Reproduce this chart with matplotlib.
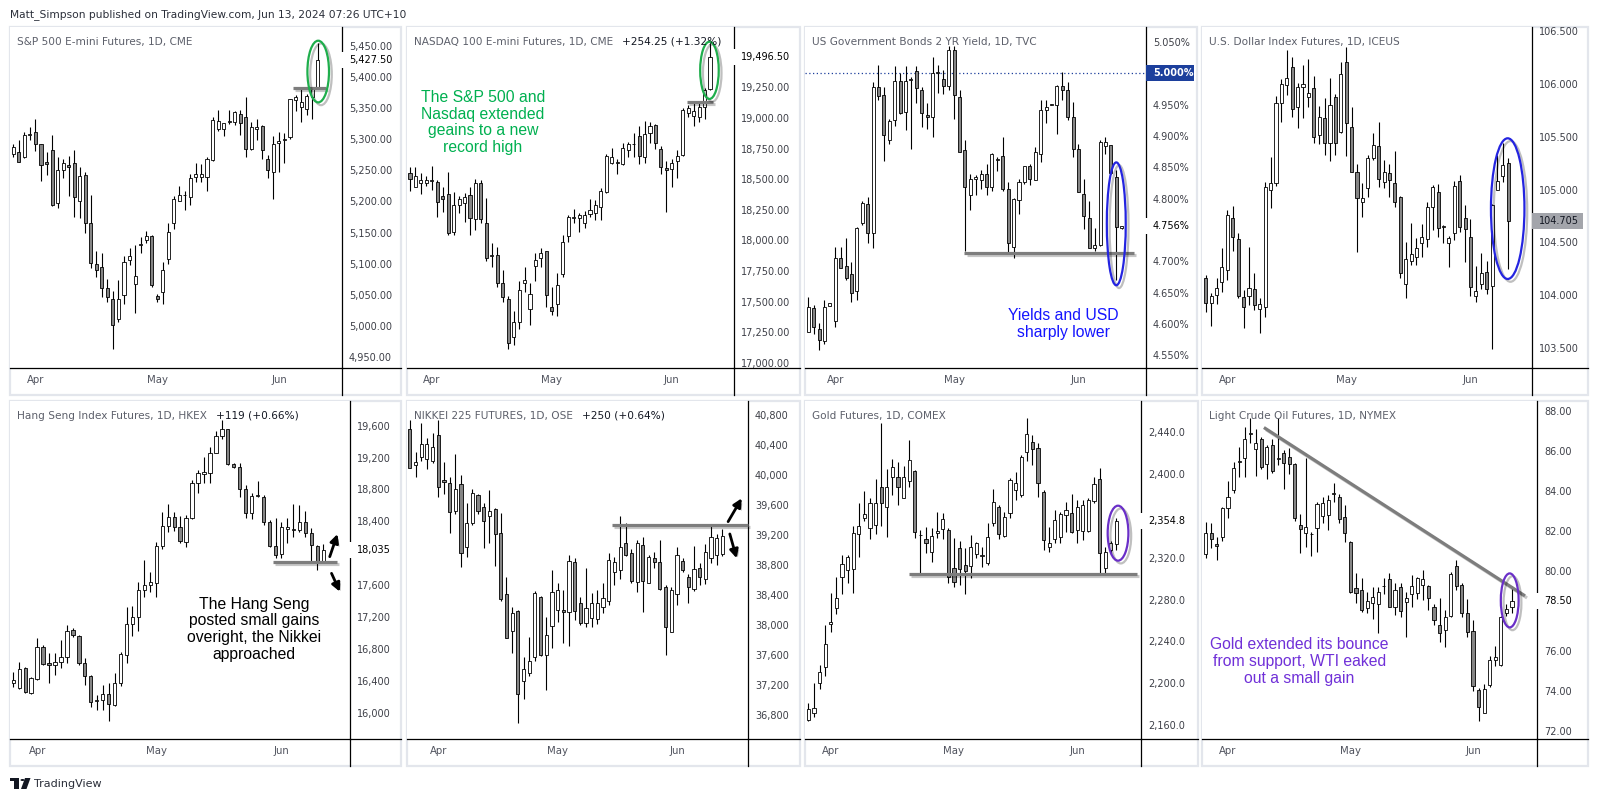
import numpy as np
import matplotlib.pyplot as plt
import matplotlib.patheffects as pe
from matplotlib.patches import Ellipse, Rectangle, Circle, Polygon
from matplotlib.lines import Line2D

# ---- data: daily candles (open, high, low, close) ----
spx = [(5276, 5292, 5272, 5288), (5279, 5299, 5263, 5263), (5271, 5311, 5269, 5307), (5307, 5319, 5299, 5308),
       (5312, 5332, 5281, 5293), (5292, 5293, 5233, 5258), (5264, 5279, 5243, 5260), (5283, 5307, 5192, 5195),
       (5198, 5271, 5190, 5250), (5251, 5268, 5237, 5261), (5259, 5273, 5208, 5256), (5261, 5283, 5175, 5207),
       (5201, 5256, 5173, 5241), (5242, 5248, 5149, 5165), (5165, 5211, 5093, 5102), (5099, 5121, 5079, 5090),
       (5095, 5118, 5046, 5061), (5061, 5075, 5038, 5046), (5044, 5056, 4963, 5001), (5012, 5074, 5007, 5044),
       (5050, 5112, 5036, 5103), (5106, 5126, 5098, 5113), (5067, 5130, 5021, 5080), (5130, 5143, 5118, 5131),
       (5138, 5153, 5134, 5145), (5145, 5146, 5063, 5066), (5048, 5051, 5039, 5044), (5054, 5103, 5035, 5090),
       (5108, 5166, 5099, 5151), (5165, 5208, 5155, 5204), (5201, 5225, 5201, 5211), (5210, 5216, 5187, 5211),
       (5207, 5244, 5194, 5237), (5240, 5261, 5232, 5244), (5239, 5260, 5232, 5244), (5240, 5272, 5216, 5268),
       (5266, 5335, 5265, 5331), (5317, 5347, 5313, 5329), (5316, 5326, 5305, 5326), (5328, 5347, 5324, 5329),
       (5328, 5345, 5323, 5343), (5341, 5347, 5307, 5326), (5336, 5367, 5272, 5284), (5284, 5328, 5283, 5320),
       (5316, 5333, 5299, 5319), (5321, 5322, 5268, 5283), (5268, 5275, 5237, 5250), (5248, 5305, 5204, 5293),
       (5294, 5311, 5247, 5297), (5299, 5310, 5261, 5301), (5303, 5365, 5301, 5364), (5363, 5371, 5345, 5367),
       (5352, 5383, 5328, 5359), (5349, 5373, 5338, 5369), (5368, 5383, 5333, 5380), (5380, 5454, 5380, 5427.5)]

ndx = [(18553, 18602, 18406, 18498), (18439, 18602, 18433, 18526), (18466, 18547, 18376, 18493),
       (18466, 18526, 18444, 18493), (18488, 18610, 18411, 18490), (18479, 18493, 18193, 18316),
       (18362, 18439, 18229, 18335), (18379, 18556, 18044, 18063), (18071, 18398, 18044, 18289),
       (18289, 18362, 18221, 18335), (18302, 18390, 18153, 18357), (18370, 18439, 18044, 18185),
       (18172, 18498, 18085, 18471), (18471, 18493, 18139, 18172), (18144, 18343, 17834, 17853),
       (17872, 17981, 17785, 17875), (17880, 17948, 17616, 17649), (17654, 17758, 17499, 17535),
       (17518, 17545, 17110, 17164), (17213, 17426, 17145, 17336), (17336, 17671, 17273, 17594),
       (17654, 17785, 17581, 17676), (17437, 17649, 17309, 17562), (17790, 17894, 17671, 17839),
       (17853, 17935, 17785, 17894), (17916, 17916, 17458, 17554), (17458, 17622, 17390, 17426),
       (17480, 17731, 17382, 17635), (17725, 18044, 17698, 17989), (18036, 18207, 17989, 18188),
       (18185, 18253, 18139, 18188), (18180, 18221, 18071, 18207), (18144, 18243, 18098, 18207),
       (18215, 18335, 18193, 18248), (18226, 18330, 18166, 18289), (18270, 18425, 18166, 18403),
       (18398, 18705, 18384, 18689), (18635, 18752, 18624, 18678), (18635, 18662, 18542, 18638),
       (18624, 18793, 18616, 18752), (18738, 18806, 18684, 18787), (18784, 18880, 18678, 18787),
       (18852, 18934, 18624, 18689), (18684, 18978, 18629, 18866), (18874, 18970, 18793, 18934),
       (18942, 18950, 18743, 18798), (18746, 18773, 18542, 18602), (18591, 18651, 18234, 18575),
       (18580, 18662, 18433, 18635), (18651, 18738, 18507, 18689), (18697, 19078, 18689, 19065),
       (19043, 19106, 19010, 19078), (19016, 19119, 18934, 19059), (19010, 19119, 18970, 19092),
       (19092, 19242, 18989, 19228), (19234, 19609, 19228, 19496.5)]

us02y = [(4.587, 4.644, 4.587, 4.628), (4.625, 4.630, 4.585, 4.596), (4.593, 4.601, 4.559, 4.574),
         (4.573, 4.638, 4.569, 4.628), (4.629, 4.633, 4.629, 4.633), (4.605, 4.723, 4.596, 4.706),
         (4.706, 4.723, 4.689, 4.690), (4.693, 4.737, 4.670, 4.674), (4.680, 4.699, 4.636, 4.650),
         (4.653, 4.755, 4.639, 4.753), (4.761, 4.797, 4.758, 4.793), (4.792, 4.803, 4.730, 4.745),
         (4.745, 4.987, 4.722, 4.978), (4.978, 5.013, 4.958, 4.964), (4.965, 4.978, 4.861, 4.902),
         (4.893, 4.928, 4.888, 4.924), (4.925, 5.011, 4.916, 4.988), (4.988, 5.001, 4.936, 4.937),
         (4.939, 5.011, 4.910, 4.988), (4.989, 4.995, 4.880, 4.991), (5.004, 5.011, 4.953, 4.976),
         (4.973, 4.979, 4.915, 4.937), (4.933, 4.952, 4.912, 4.930), (4.930, 5.026, 4.898, 5.000),
         (5.000, 5.013, 4.969, 5.002), (4.991, 5.006, 4.967, 4.980), (4.980, 5.043, 4.973, 5.037),
         (5.037, 5.043, 4.927, 4.965), (4.962, 4.974, 4.875, 4.875), (4.878, 4.894, 4.717, 4.819),
         (4.806, 4.840, 4.782, 4.832), (4.832, 4.838, 4.806, 4.834), (4.830, 4.846, 4.816, 4.840),
         (4.840, 4.856, 4.806, 4.819), (4.818, 4.873, 4.813, 4.871), (4.862, 4.866, 4.845, 4.864),
         (4.868, 4.899, 4.813, 4.816), (4.816, 4.826, 4.712, 4.729), (4.723, 4.802, 4.706, 4.799),
         (4.798, 4.832, 4.775, 4.827), (4.826, 4.852, 4.824, 4.852), (4.852, 4.856, 4.822, 4.832),
         (4.830, 4.883, 4.830, 4.875), (4.871, 4.958, 4.859, 4.941), (4.942, 4.958, 4.921, 4.946),
         (4.950, 4.951, 4.949, 4.950), (4.950, 4.981, 4.904, 4.980), (4.980, 5.003, 4.957, 4.974),
         (4.974, 4.987, 4.926, 4.930), (4.930, 4.955, 4.867, 4.879), (4.879, 4.887, 4.811, 4.811),
         (4.808, 4.831, 4.751, 4.772), (4.770, 4.796, 4.722, 4.722), (4.721, 4.753, 4.717, 4.726),
         (4.726, 4.893, 4.724, 4.891), (4.884, 4.899, 4.872, 4.891), (4.886, 4.886, 4.840, 4.841),
         (4.835, 4.846, 4.670, 4.755), (4.753, 4.757, 4.752, 4.756)]

dxy = [(104.160, 104.192, 103.844, 103.929), (103.923, 104.024, 103.708, 103.993), (103.999, 104.160, 103.917, 104.065),
       (104.128, 104.444, 104.034, 104.270), (104.239, 104.807, 104.144, 104.760), (104.728, 104.845, 104.422, 104.555),
       (104.529, 104.586, 103.970, 103.993), (103.980, 104.049, 103.686, 103.885), (103.993, 104.454, 103.907, 104.065),
       (104.056, 104.207, 103.860, 103.907), (103.866, 103.970, 103.645, 103.917), (103.885, 105.076, 103.797, 105.028),
       (104.997, 105.306, 104.823, 105.060), (105.066, 105.887, 105.035, 105.824), (105.824, 106.045, 105.644, 105.998),
       (105.992, 106.323, 105.897, 106.061), (106.159, 106.254, 105.692, 105.761), (105.786, 106.007, 105.581, 105.976),
       (105.976, 106.181, 105.676, 105.998), (105.881, 106.235, 105.786, 105.913), (105.960, 106.077, 105.445, 105.502),
       (105.518, 105.793, 105.433, 105.691), (105.676, 105.865, 105.328, 105.445), (105.445, 106.055, 105.275, 105.802),
       (105.875, 105.906, 105.328, 105.445), (105.549, 106.213, 105.540, 106.096), (106.213, 106.355, 105.319, 105.628),
       (105.591, 105.780, 105.171, 105.171), (105.171, 105.243, 104.413, 104.918), (104.886, 105.066, 104.744, 104.918),
       (105.013, 105.328, 104.927, 105.297), (105.297, 105.534, 105.281, 105.423), (105.414, 105.638, 105.028, 105.098),
       (105.076, 105.281, 105.013, 105.171), (105.161, 105.243, 104.927, 105.092), (105.066, 105.370, 104.839, 104.886),
       (104.934, 104.940, 104.160, 104.207), (104.106, 104.507, 103.970, 104.340), (104.327, 104.687, 104.286, 104.390),
       (104.365, 104.539, 104.286, 104.444), (104.491, 104.675, 104.365, 104.555), (104.529, 104.886, 104.454, 104.833),
       (104.839, 105.044, 104.618, 105.028), (104.981, 105.054, 104.555, 104.634), (104.649, 104.665, 104.492, 104.652),
       (104.492, 104.561, 104.264, 104.539), (104.586, 105.085, 104.523, 105.035), (105.085, 105.139, 104.602, 104.649),
       (104.728, 104.855, 104.318, 104.624), (104.555, 104.719, 103.993, 104.075), (103.993, 104.277, 103.939, 104.043),
       (104.106, 104.403, 104.056, 104.213), (104.223, 104.327, 104.012, 104.056), (104.087, 104.864, 103.487, 104.855),
       (104.997, 105.328, 104.997, 105.085), (105.129, 105.445, 105.076, 105.234), (105.249, 105.297, 104.245, 104.705)]

hsi = [(16369, 16512, 16327, 16411), (16306, 16641, 16294, 16544), (16557, 16578, 16243, 16264),
       (16252, 16453, 16235, 16432), (16419, 16933, 16411, 16820), (16820, 16850, 16599, 16611),
       (16620, 16745, 16369, 16595), (16599, 16745, 16473, 16641), (16641, 16912, 16557, 16703),
       (16703, 17100, 16620, 17029), (17038, 17059, 16954, 16975), (16967, 16975, 16599, 16620),
       (16620, 16683, 16348, 16461), (16461, 16473, 16076, 16139), (16151, 16223, 16034, 16154),
       (16156, 16348, 16034, 16235), (16235, 16369, 15901, 16110), (16097, 16503, 16085, 16377),
       (16377, 16766, 16335, 16737), (16724, 17330, 16620, 17113), (17113, 17339, 16962, 17197),
       (17197, 17644, 17029, 17539), (17539, 17915, 17456, 17602), (17602, 17769, 17518, 17640),
       (17631, 18145, 17447, 18091), (18091, 18522, 18049, 18342), (18342, 18618, 18271, 18450),
       (18450, 18522, 18283, 18333), (18333, 18467, 18133, 18158), (18145, 18480, 18083, 18438),
       (18438, 18919, 18425, 18877), (18877, 19044, 18752, 19011), (18994, 19211, 18885, 19023),
       (19002, 19337, 18877, 19261), (19261, 19537, 19253, 19470), (19470, 19671, 19429, 19554),
       (19554, 19554, 19107, 19119), (19119, 19136, 19065, 19086), (19086, 19128, 18701, 18802),
       (18802, 18856, 18438, 18501), (18501, 18751, 18425, 18718), (18718, 18910, 18701, 18722),
       (18710, 18731, 18354, 18396), (18396, 18417, 18083, 18091), (18091, 18438, 17936, 17978),
       (17991, 18396, 17936, 18325), (18308, 18438, 18125, 18329), (18292, 18618, 18208, 18296),
       (18292, 18605, 18271, 18396), (18396, 18534, 18208, 18250), (18250, 18313, 17907, 18104),
       (18091, 18104, 17790, 17894), (17894, 18116, 17874, 18035)]

nikkei = [(40609, 40733, 40090, 40090), (40134, 40312, 39970, 40178), (40245, 40689, 40192, 40414),
          (40210, 40489, 40076, 40414), (40192, 40556, 40165, 40369), (40534, 40733, 39703, 39845),
          (39934, 40178, 39748, 39903), (39890, 39970, 39233, 39512), (39526, 40281, 39481, 39810),
          (39876, 40001, 38780, 38966), (39037, 39632, 38904, 39366), (39366, 39810, 39335, 39766),
          (39734, 39748, 39481, 39526), (39579, 39623, 39024, 39392), (39455, 39801, 39099, 39526),
          (39543, 39557, 38789, 39215), (39224, 39490, 38327, 38345), (38416, 38638, 37825, 37825),
          (37927, 38238, 37625, 38158), (38194, 38203, 36702, 37084), (37257, 37581, 37013, 37412),
          (37368, 37839, 37324, 37528), (37572, 38460, 37528, 38425), (38380, 38389, 37590, 37603),
          (37603, 38114, 37137, 37870), (37989, 38735, 37692, 38447), (38203, 38567, 38038, 38469),
          (38203, 38469, 37767, 38176), (38180, 38935, 37723, 38860), (38846, 38891, 38069, 38194),
          (38292, 38380, 38003, 38025), (38034, 38758, 37972, 38225), (38092, 38425, 37972, 38301),
          (38079, 38469, 38016, 38292), (38247, 38558, 38167, 38358), (38327, 38958, 38269, 38869),
          (38713, 38913, 38536, 38846), (38735, 39455, 38611, 39046), (39090, 39357, 38922, 38935),
          (38966, 39011, 38567, 38589), (38580, 39135, 38447, 39090), (39068, 39179, 38180, 38593),
          (38567, 38935, 38567, 38913), (38891, 38980, 38758, 38846), (38846, 39135, 38469, 38478),
          (38513, 38536, 37603, 37981), (37914, 38513, 37914, 38469), (38416, 39046, 38269, 38931),
          (38860, 38891, 38713, 38736), (38638, 38682, 38292, 38513), (38483, 39055, 38460, 38744),
          (38767, 38833, 38536, 38638), (38611, 39082, 38549, 38980), (38891, 39335, 38824, 39170),
          (38935, 39215, 38802, 39157), (38949, 39277, 38927, 39188)]

gold = [(2164.7, 2181.3, 2164.1, 2174.9), (2171.7, 2199.8, 2167.9, 2175.8), (2199.8, 2217.3, 2194.0, 2211.0),
        (2215.1, 2255.6, 2206.8, 2237.4), (2256.3, 2286.6, 2249.2, 2258.2), (2271.6, 2301.2, 2266.1, 2281.1),
        (2301.2, 2322.6, 2285.3, 2314.0), (2308.3, 2322.6, 2296.1, 2320.4), (2308.9, 2350.4, 2285.9, 2344.0),
        (2342.7, 2372.1, 2321.0, 2350.4), (2357.7, 2384.2, 2355.5, 2361.5), (2348.1, 2376.8, 2337.6, 2372.1),
        (2351.3, 2395.0, 2342.7, 2372.1), (2388.0, 2448.6, 2350.4, 2372.7), (2368.2, 2404.6, 2340.2, 2388.0),
        (2397.6, 2414.2, 2380.0, 2407.1), (2396.9, 2411.9, 2370.5, 2387.4), (2376.8, 2407.8, 2376.8, 2396.9),
        (2393.4, 2432.7, 2387.4, 2413.5), (2403.0, 2404.0, 2338.6, 2344.9), (2341.4, 2346.5, 2304.4, 2341.6),
        (2337.6, 2349.7, 2324.8, 2334.4), (2325.8, 2348.1, 2316.2, 2340.8), (2343.3, 2364.1, 2338.6, 2345.9),
        (2347.2, 2362.5, 2337.6, 2356.7), (2346.5, 2348.1, 2296.1, 2301.9), (2309.8, 2338.6, 2291.7, 2297.1),
        (2329.0, 2336.3, 2293.9, 2308.9), (2313.0, 2329.0, 2285.3, 2307.6), (2312.1, 2341.7, 2300.3, 2330.6),
        (2323.6, 2335.4, 2319.4, 2333.8), (2321.7, 2330.6, 2311.4, 2321.9), (2314.6, 2352.9, 2313.0, 2339.5),
        (2352.9, 2385.4, 2350.4, 2373.6), (2368.2, 2370.5, 2337.6, 2342.7), (2340.8, 2364.1, 2340.2, 2359.3),
        (2362.5, 2396.0, 2357.7, 2394.4), (2384.8, 2402.4, 2375.2, 2391.2), (2380.0, 2418.3, 2377.8, 2416.7),
        (2421.5, 2453.4, 2412.9, 2438.1), (2431.1, 2437.4, 2408.7, 2423.7), (2424.7, 2429.5, 2377.8, 2391.8),
        (2383.2, 2384.8, 2327.4, 2337.0), (2329.9, 2349.1, 2325.8, 2333.8), (2337.6, 2365.7, 2333.8, 2356.1),
        (2340.2, 2364.1, 2334.4, 2361.8), (2360.9, 2373.6, 2344.9, 2365.7), (2363.1, 2381.0, 2343.3, 2344.9),
        (2346.5, 2375.2, 2334.4, 2368.9), (2345.9, 2375.2, 2337.0, 2370.5), (2345.9, 2376.8, 2344.9, 2375.2),
        (2374.6, 2396.9, 2372.1, 2390.6), (2395.0, 2405.6, 2303.5, 2324.2), (2309.9, 2330.6, 2303.5, 2325.8),
        (2327.4, 2336.3, 2323.6, 2333.8), (2333.1, 2357.7, 2327.4, 2354.8)]

crude = [(80.85, 82.47, 80.63, 81.92), (81.92, 82.38, 81.13, 81.58), (81.35, 81.72, 80.55, 81.27),
         (81.68, 83.22, 81.52, 83.13), (83.13, 84.52, 82.63, 83.68), (84.05, 85.47, 83.88, 85.13),
         (85.45, 86.22, 84.72, 85.50), (85.63, 87.18, 84.68, 86.58), (86.86, 87.63, 86.38, 86.90),
         (86.08, 87.08, 84.75, 86.42), (86.58, 86.72, 85.08, 85.18), (85.35, 86.30, 84.58, 86.18),
         (86.30, 86.58, 84.88, 85.02), (85.61, 87.63, 85.30, 85.65), (85.88, 86.05, 84.08, 85.38),
         (85.72, 86.13, 84.85, 85.35), (85.35, 85.42, 82.52, 82.63), (82.30, 82.85, 80.92, 82.08),
         (81.92, 85.63, 81.18, 82.22), (81.83, 81.97, 80.75, 81.87), (82.13, 83.47, 80.97, 83.35),
         (82.75, 83.68, 82.38, 83.38), (82.80, 83.80, 82.05, 83.55), (83.86, 84.42, 83.47, 83.90),
         (83.68, 83.85, 82.42, 82.58), (82.72, 83.30, 81.47, 81.92), (81.47, 81.52, 78.88, 78.97),
         (79.13, 79.88, 78.42, 78.92), (79.05, 79.63, 77.97, 78.05), (78.13, 78.97, 77.92, 78.52),
         (78.38, 79.22, 77.58, 78.68), (78.35, 79.22, 76.92, 78.97), (79.23, 79.63, 78.85, 79.27),
         (79.58, 79.92, 78.18, 78.22), (78.22, 79.42, 77.80, 79.05), (79.22, 79.42, 77.72, 78.02),
         (78.47, 78.97, 76.72, 78.63), (78.85, 79.80, 78.22, 79.25), (78.88, 79.72, 78.58, 79.63),
         (79.30, 80.05, 78.55, 79.58), (79.25, 79.30, 78.05, 78.63), (78.18, 78.35, 77.30, 77.55),
         (77.30, 78.63, 76.47, 76.88), (77.05, 78.05, 76.18, 77.68), (77.75, 79.97, 77.72, 79.85),
         (80.25, 80.55, 79.05, 79.25), (79.30, 79.38, 77.68, 77.88), (77.88, 78.58, 76.72, 76.97),
         (77.02, 77.55, 74.02, 74.25), (74.05, 74.13, 72.52, 73.22), (72.88, 74.35, 72.88, 74.08),
         (74.30, 75.75, 74.22, 75.55), (75.55, 76.25, 75.25, 75.72), (75.30, 77.75, 75.25, 77.72),
         (77.88, 78.35, 77.75, 78.08), (78.18, 79.25, 77.92, 78.50)]

months = ['Apr', 'May', 'Jun']

# ---- layout helpers (pixel coords, y from top) ----
W, H = 1598, 802
fig = plt.figure(figsize=(W / 100, H / 100), dpi=100)
fig.patch.set_facecolor('white')
renderer = fig.canvas.get_renderer()

TICK_C = '#3d3f47'
TITLE_C = '#5d606b'


def fx(px):
    return px / W


def fy(py):
    return 1 - py / H


def panel(L, T, PR, R, AB, B, xlim, ylim, ticks, fmt, month_pos, title, change, ohlc):
    # light frame
    fig.add_artist(Rectangle((fx(L), fy(B)), (R - L) / W, (B - T) / H, transform=fig.transFigure,
                             fill=False, ec='#e3e6ec', lw=1.6, zorder=0))
    ax = fig.add_axes([fx(L), fy(AB), (PR - L) / W, (AB - T) / H])
    ax.set_xlim(*xlim)
    ax.set_ylim(*ylim)
    for s in ['left', 'top']:
        ax.spines[s].set_visible(False)
    for s in ['right', 'bottom']:
        ax.spines[s].set_color('black')
        ax.spines[s].set_linewidth(0.9)
    ax.yaxis.tick_right()
    ax.set_yticks(ticks)
    ax.set_yticklabels([fmt(v) for v in ticks])
    ax.tick_params(axis='y', length=0, pad=5, labelsize=7, labelcolor=TICK_C)
    ax.set_xticks(month_pos)
    ax.set_xticklabels(months)
    ax.tick_params(axis='x', length=0, pad=5, labelsize=7.3, labelcolor='#50535e')
    # lines that run on into the price / date scale
    fig.add_artist(Line2D([fx(PR), fx(R)], [fy(AB), fy(AB)], color='black', lw=0.9))
    fig.add_artist(Line2D([fx(PR), fx(PR)], [fy(AB), fy(B)], color='black', lw=0.9))

    # candles
    a = np.array(ohlc, dtype=float)
    o, h, l, c = a.T
    x = np.arange(len(a))
    up = c >= o
    lo = np.minimum(o, c)
    hgt = np.maximum(np.abs(c - o), (ylim[1] - ylim[0]) * 0.0015)
    ax.vlines(x, l, h, color='black', lw=0.8, zorder=2)
    ax.bar(x[up], hgt[up], bottom=lo[up], width=0.56, color='white', edgecolor='black', lw=0.6, zorder=3)
    ax.bar(x[~up], hgt[~up], bottom=lo[~up], width=0.56, color='#858585', edgecolor='black', lw=0.6, zorder=3)

    # title
    t = fig.text(fx(L + 7), fy(T + 15), title, fontsize=7.6, color=TITLE_C, va='center', ha='left')
    if change:
        bb = t.get_window_extent(renderer)
        fig.text((bb.x1 + 9) / W, fy(T + 15), change, fontsize=7.6, color='#131722', va='center', ha='left')
    ax.panel_box = (L, T, PR, R, AB, B)
    ax.fmt = fmt
    return ax


def price_px(ax, p):
    L, T, PR, R, AB, B = ax.panel_box
    y0, y1 = ax.get_ylim()
    return AB - (p - y0) / (y1 - y0) * (AB - T)


def last_label(ax, p, text, fc='white', tc='black', weight='normal', box_right=None):
    L, T, PR, R, AB, B = ax.panel_box
    yp = price_px(ax, p)
    right = box_right if box_right is not None else R - 3
    x0 = PR - 2 if fc == 'white' else PR
    fig.add_artist(Rectangle((fx(x0), fy(yp + 8)), (right - x0) / W, 16 / H, transform=fig.transFigure,
                             fc=fc, ec='none', zorder=5))
    fig.text(fx(PR + 7), fy(yp), text, fontsize=7, color=tc, weight=weight, va='center', ha='left', zorder=6)
    # blank the scale labels that sit under the price tag
    ticks = ax.get_yticks()
    ax.set_yticks(ticks)
    ax.set_yticklabels([lab.get_text() if abs(price_px(ax, t) - yp) > 11 else ''
                        for t, lab in zip(ticks, ax.get_yticklabels())])


shadow = [pe.SimpleLineShadow(offset=(1.5, -1.5), shadow_color='black', alpha=0.22), pe.Normal()]


def support(ax, x0, x1, p):
    ax.plot([x0, x1], [p, p], color='#7d7d7d', lw=2.3, solid_capstyle='butt', zorder=4,
            path_effects=shadow, clip_on=False)


def ring(ax, xc, yc, w, h, color):
    e = Ellipse((xc, yc), w, h, fill=False, ec=color, lw=1.6, zorder=7, clip_on=False)
    e.set_path_effects([pe.SimpleLineShadow(offset=(2, -2), shadow_color='black', alpha=0.25), pe.Normal()])
    ax.add_patch(e)


def arrow(ax, tail, tip):
    an = ax.annotate('', xy=tip, xytext=tail, annotation_clip=False,
                     arrowprops=dict(arrowstyle='-|>,head_length=0.5,head_width=0.25', color='black',
                                     lw=2.0, shrinkA=0, shrinkB=0))
    an.arrow_patch.set_path_effects([pe.SimplePatchShadow(offset=(1.5, -1.5), alpha=0.25), pe.Normal()])


def note(ax, x, y, text, color):
    ax.text(x, y, text, color=color, fontsize=11.3, family='Liberation Sans', ha='center', va='center',
            multialignment='center', linespacing=1.15, zorder=8)


# ---- header / footer ----
fig.text(fx(10), fy(15), 'Matt_Simpson published on TradingView.com, Jun 13, 2024 07:26 UTC+10',
         fontsize=7.7, color='#2a2e39', va='center', ha='left')
fig.text(fx(34), fy(784), 'TradingView', fontsize=8, color='#2a2e39', va='center', ha='left')
fig.add_artist(Rectangle((fx(10), fy(781)), 9 / W, 3.5 / H, transform=fig.transFigure, fc='#131722', ec='none'))
fig.add_artist(Rectangle((fx(14.5), fy(789)), 4.5 / W, 10 / H, transform=fig.transFigure, fc='#131722', ec='none'))
fig.add_artist(Circle((fx(22.5), fy(780)), 2.0 / W, transform=fig.transFigure, fc='#131722', ec='none'))
fig.add_artist(Polygon([(fx(25), fy(778)), (fx(30.5), fy(778)), (fx(26.5), fy(789)), (fx(21), fy(789))],
                       closed=True, transform=fig.transFigure, fc='#131722', ec='none'))

# ---- top row ----
ax1 = panel(10, 27, 342, 401, 368, 395, (-0.6, 59.4), (4932.7, 5480), np.arange(4950, 5451, 50),
            lambda v: f'{v:,.2f}', [4, 26, 48], 'S&P 500 E-mini Futures, 1D, CME', '', spx)
support(ax1, 50.5, 56.5, 5381.5)
ring(ax1, 55.1, 5408.5, 3.9, 99, '#1fae4c')
last_label(ax1, 5427.5, '5,427.50')

ax2 = panel(407, 27, 734, 800, 368, 395, (-0.55, 59.4), (16957, 19743), np.arange(17000, 19501, 250),
            lambda v: f'{v:,.2f}', [4, 26, 48], 'NASDAQ 100 E-mini Futures, 1D, CME', '+254.25 (+1.32%)', ndx)
support(ax2, 50.8, 55.5, 19133)
ring(ax2, 54.9, 19389, 3.4, 468, '#1fae4c')
last_label(ax2, 19496.5, '19,496.50')
note(ax2, 13.4, 18963, 'The S&P 500 and\nNasdaq extended\ngeains to a new\nrecord high', '#00b050')

ax3 = panel(805, 27, 1146, 1197, 368, 395, (-0.6, 62.5), (4.530, 5.074), np.arange(4.55, 5.051, 0.05),
            lambda v: f'{v:.3f}%', [5, 27, 50], 'US Government Bonds 2 YR Yield, 1D, TVC', '', us02y)
ax3.axhline(5.0, color='#1c3f9c', ls=(0, (1, 2)), lw=0.9, zorder=1)
support(ax3, 28.9, 60.2, 4.713)
ring(ax3, 57.0, 4.760, 3.5, 0.196, '#2424e0')
last_label(ax3, 4.756, '4.756%')
last_label(ax3, 5.0, '5.000%', fc='#1c3f9c', tc='white', weight='bold')
note(ax3, 47.2, 4.600, 'Yields and USD\nsharply lower', '#1414ff')

ax4 = panel(1202, 27, 1532, 1588, 368, 395, (-0.7, 60.4), (103.310, 106.541), np.arange(103.5, 106.51, 0.5),
            lambda v: f'{v:.3f}', [4, 26, 49], 'U.S. Dollar Index Futures, 1D, ICEUS', '', dxy)
ring(ax4, 55.9, 104.82, 6.2, 1.333, '#2424e0')
last_label(ax4, 104.705, '104.705', fc='#a3a5ab', tc='#131722', box_right=1583)

# ---- bottom row ----
ax5 = panel(10, 401, 350, 401, 739, 766, (-0.55, 56.5), (15671, 19909), np.arange(16000, 19601, 400),
            lambda v: f'{v:,.0f}', [4, 24, 45], 'Hang Seng Index Futures, 1D, HKEX', '+119 (+0.66%)', hsi)
support(ax5, 43.5, 54.3, 17894)
arrow(ax5, (53.1, 17957), (54.4, 18241))
arrow(ax5, (53.4, 17748), (54.8, 17518))
last_label(ax5, 18035, '18,035')
note(ax5, 40.4, 17046, 'The Hang Seng\nposted small gains\noveright, the Nikkei\napproached', 'black')

ax6 = panel(407, 401, 748, 800, 739, 766, (-0.5, 59.5), (36484, 40986), np.arange(36800, 40801, 400),
            lambda v: f'{v:,.0f}', [5, 26, 47], 'NIKKEI 225 FUTURES, 1D, OSE', '+250 (+0.64%)', nikkei)
support(ax6, 35.5, 59.5, 39335)
arrow(ax6, (56.0, 39379), (58.4, 39690))
arrow(ax6, (56.3, 39215), (57.5, 38891))

ax7 = panel(805, 401, 1141, 1198, 739, 766, (-0.6, 59.4), (2146.5, 2470), np.arange(2160, 2441, 40),
            lambda v: f'{v:,.1f}', [4, 26, 48], 'Gold Futures, 1D, COMEX', '', gold)
support(ax7, 18.0, 58.6, 2304.4)
ring(ax7, 55.3, 2343.5, 3.7, 52.6, '#6a2fc8')
last_label(ax7, 2354.8, '2,354.8')

ax8 = panel(1202, 401, 1537, 1588, 739, 766, (-0.66, 59.5), (71.6, 88.5), np.arange(72, 88.01, 2),
            lambda v: f'{v:.2f}', [4, 26, 48], 'Light Crude Oil Futures, 1D, NYMEX', '', crude)
ax8.plot([10.7, 57.1], [87.13, 78.8], color='#7d7d7d', lw=2.3, zorder=4, path_effects=shadow)
ring(ax8, 54.6, 78.53, 3.2, 2.7, '#6a2fc8')
last_label(ax8, 78.50, '78.50')
note(ax8, 16.8, 75.47, 'Gold extended its bounce\nfrom support, WTI eaked\nout a small gain', '#7030d8')

fig.savefig('out.png', dpi=100, facecolor='white')
